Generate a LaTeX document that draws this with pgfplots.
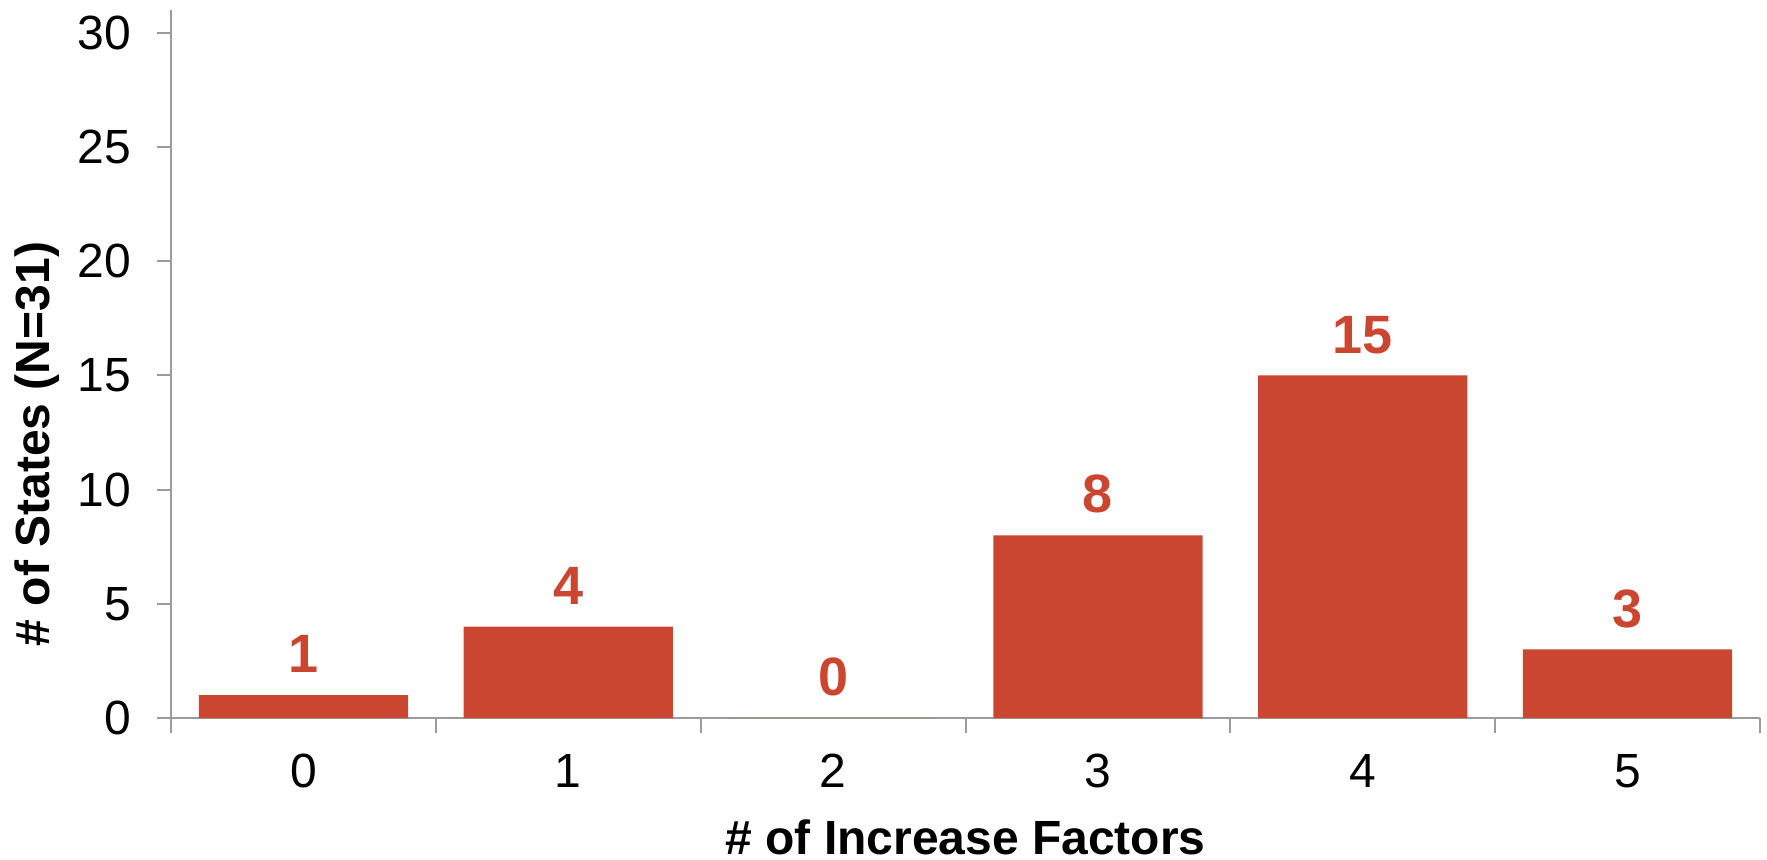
\documentclass[border=0pt]{standalone}
\usepackage{fontspec}
\setmainfont{Liberation Sans}
\usepackage{pgfplots}
\pgfplotsset{compat=1.18}

\definecolor{barred}{HTML}{CB4631}
\definecolor{axisgray}{HTML}{9B9B9B}

\begin{document}
\begin{tikzpicture}
\useasboundingbox (-42.75pt,-35.25pt) rectangle (399pt,179.5pt);
\begin{axis}[
  scale only axis,
  width=397.25pt, height=177pt,
  xmin=-0.5, xmax=5.5,
  ymin=0, ymax=31,
  axis x line*=bottom,
  axis y line*=left,
  axis line style={axisgray, line width=0.5pt, -},
  tick style={axisgray, line width=0.5pt},
  tick align=outside,
  xtick={0,1,2,3,4,5},
  major x tick style={draw=none},
  minor xtick={-0.5,0.5,1.5,2.5,3.5,4.5,5.5},
  minor tick length=3.75pt,
  ytick={0,5,10,15,20,25,30},
  major tick length=3.5pt,
  /pgf/number format/assume math mode=true,
  tick label style={font=\fontsize{12}{14}\selectfont, black},
  xticklabel style={yshift=-2pt},
  yticklabel style={xshift=-3pt},
  xlabel={\bfseries \# of Increase Factors},
  xlabel style={at={(rel axis cs:0.5,0)}, anchor=base, yshift=-34pt,
                font=\fontsize{12}{14}\selectfont},
  ylabel={\bfseries \# of States (N=31)},
  ylabel style={at={([xshift=-30.25pt,yshift=68.5pt]rel axis cs:0,0)},
                anchor=base,
                font=\fontsize{12}{14}\selectfont},
  ybar,
  bar width=0.79,
  bar shift=0pt,
  nodes near coords,
  nodes near coords style={anchor=base, yshift=5.6pt, text=barred,
        font=\fontsize{13.5}{16}\selectfont\bfseries},
  clip=false,
]
\addplot[fill=barred, draw=none] coordinates {
  (0,1) (1,4) (2,0) (3,8) (4,15) (5,3)
};
\end{axis}
\end{tikzpicture}
\end{document}
